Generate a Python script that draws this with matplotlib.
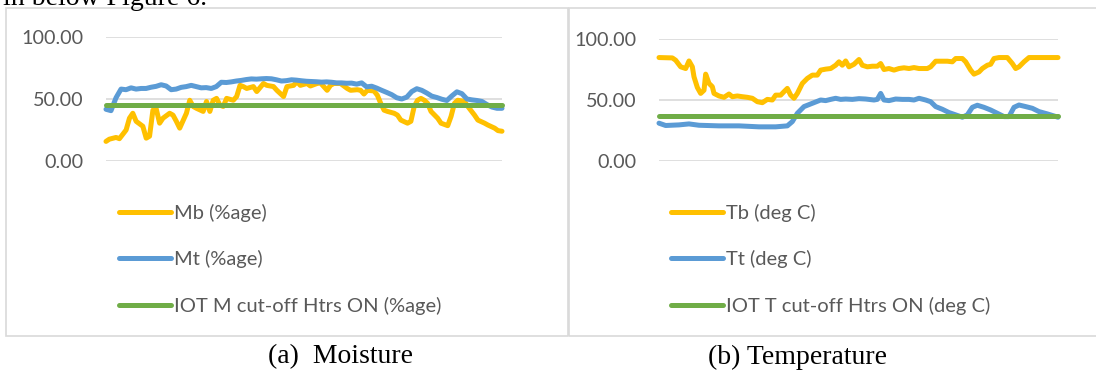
import numpy as np
import matplotlib.pyplot as plt
from matplotlib.patches import Rectangle

# ---- data ----
# moisture panel (sample index, value)
mb_t = [0, 1, 3, 4, 6, 7, 8, 9, 11, 12, 13, 14, 15, 16, 17, 19, 20, 21, 22, 24,
        25, 26, 27, 29, 30, 31, 32, 33, 34, 35, 36, 38, 39, 40, 41, 42, 44, 45, 47, 48,
        50, 51, 52, 53, 54, 56, 57, 58, 60, 61, 63, 64, 66, 67, 68, 70, 72, 73, 75, 76,
        77, 78, 80, 81, 82, 83, 84, 86, 87, 88, 90, 91, 92, 93, 94, 95, 96, 97, 99, 100,
        102, 103, 104, 105, 107, 108, 110, 111, 113, 114, 116, 117, 118.2]
mb_val = [15.8, 17.6, 19, 18, 25, 34.5, 38.5, 32, 28, 18.4, 20, 41, 42, 30.5, 34.5, 38.5, 37, 32, 26.5, 38.5,
          49, 44, 42.5, 40, 48, 40, 49, 50.5, 45, 44, 50.5, 49, 52, 61, 60, 58.5, 60, 56, 62.5, 61,
          60, 57, 54.5, 52, 60, 61, 64, 61, 62.5, 60.5, 62.5, 63, 57, 61, 62.5, 62.5, 58.5, 57, 57.5, 57,
          54, 57, 56.5, 53, 46.5, 41, 40, 38.5, 37, 33, 30.5, 32, 44, 49, 50.5, 49, 46.5, 40, 34.5, 30.5,
          28.5, 36, 46.5, 49, 48, 44, 37, 33, 30.5, 29, 26.5, 24.5, 24]
mt_val = [41.7, 40.6, 51, 58, 57.5, 59, 58, 58.5, 58.5, 59.5,
          60.2, 61.5, 60.5, 57.5, 58, 59.4, 60, 61, 60, 59,
          59.2, 58.5, 60, 63.5, 63.3, 63.8, 64.5, 65, 65.7, 66.2,
          66, 66.3, 66.5, 66.3, 65.5, 64.5, 64.8, 65.5, 65.2, 64.7,
          64.3, 64.1, 63.9, 63.6, 63.8, 63.5, 63, 63, 62.7, 62.8,
          62, 63, 59.8, 60.3, 58.8, 57, 55.3, 53.5, 51, 50,
          51.5, 56, 58.3, 57, 54.8, 52.3, 51.2, 49.8, 48.8, 52.5,
          55.8, 54.3, 50, 49.3, 48.8, 48, 45.5, 43.5, 42.5, 42.5]
m_cutoff = 45.0

# temperature panel (sample index, value)
tb_t = [0, 4, 5, 6.5, 8, 9, 10, 10.5, 11.5, 12.5, 13.5, 14, 15, 16, 16.5, 18, 19.5, 21, 22, 23.5,
        25, 26.5, 28, 29.5, 31, 32.5, 34, 35, 36.5, 37.5, 38.5, 39.5, 40.5, 41.5, 43, 44.5, 46, 47.5, 48.5, 50,
        51.5, 53, 54, 55, 56, 57, 58.5, 60, 61, 62.5, 64, 65.5, 66.5, 67.5, 69, 70.5, 72, 73.5, 75, 76.5,
        78, 79.5, 80.5, 81.5, 83, 84.5, 86.5, 88, 89, 91, 92, 93.5, 94.5, 96, 97, 98.5, 99.5, 100.5, 102, 104.5,
        106, 107, 108, 109.5, 111, 119.7]
tb_val = [84.8, 84.5, 82.6, 77.2, 75.8, 82, 77.2, 69, 60.3, 55.4, 58, 71.2, 63.6, 60.9, 55.4, 53.3, 52.2, 54.9, 52.7, 53.3,
          52.7, 52.2, 51.4, 48.6, 47.8, 50.5, 50, 54, 54, 56.8, 59.5, 54, 51.4, 55.4, 63.6, 67.7, 70.4, 70.4, 74.5, 75.3,
          75.8, 78.5, 81.3, 78.5, 82, 77.2, 79.3, 83.2, 78.5, 77.2, 77.7, 77.7, 79.9, 75, 75.8, 74.5, 75.8, 76.4, 75.8, 76.6,
          75.8, 75.8, 75.8, 77.2, 81.8, 81.8, 81.8, 81.3, 84, 84, 81.3, 74.5, 71.2, 73, 75.8, 78.5, 79.3, 84, 84.8, 84.8,
          79.9, 75.8, 77.2, 81.3, 84.8, 84.8]
tt_t = [0, 2, 6, 9, 12, 18, 24, 30, 35, 38.5, 40, 41.5, 43.5, 46, 48.5, 50, 51.5, 53, 54.5, 56,
        58, 60, 62, 64.5, 65.5, 66.5, 67.5, 69, 71, 73, 75, 76.5, 78, 80, 81.5, 83, 85, 87, 89, 91,
        92.5, 94, 95.5, 97.5, 99.5, 101.5, 103.5, 105, 106.5, 108, 110, 112, 114, 116.5, 119.7]
tt_val = [31, 29.1, 29.6, 30.4, 29.3, 28.8, 28.8, 28, 28, 28.8, 32.3, 39.1, 44.6, 47.3, 50, 49.5, 50.5, 51.4, 50.5, 50.8,
          50.5, 51.1, 50.8, 50, 50.5, 55.4, 50, 49.5, 50.8, 50.5, 50.5, 50, 51.4, 50, 48.6, 44.6, 42.4, 39.7, 37.8, 35.9,
          37.8, 44, 45.7, 44, 41.8, 39.1, 36.4, 36.4, 44, 45.9, 44.6, 43.2, 40.5, 38.6, 35.9]
t_cutoff = 37.0

y_ticks = [0, 50, 100]
m_labels = ["Mb (%age)", "Mt (%age)", "IOT M cut-off Htrs ON (%age)"]
t_labels = ["Tb (deg C)", "Tt (deg C)", "IOT T cut-off Htrs ON (deg C)"]

YELLOW = "#FFC000"
BLUE = "#5B9BD5"
GREEN = "#70AD47"
GRID = "#D9D9D9"
TEXT = "#595959"

W, H = 1096, 374


def fx(px):
    return px / W


def fy(px):
    return 1 - px / H


def draw_panel(ax, top_t, top_val, bot_t, bot_val, cutoff, labels):
    t_end = max(max(top_t), max(bot_t))
    style = dict(lw=3.6, solid_capstyle="round", solid_joinstyle="round", clip_on=False)
    ax.plot(top_t, top_val, color=YELLOW, label=labels[0], **style)
    ax.plot(bot_t, bot_val, color=BLUE, label=labels[1], **style)
    ax.plot([0, t_end], [cutoff, cutoff], color=GREEN, label=labels[2], **style)

    ax.set_xlim(0, t_end)
    ax.set_ylim(0, 100)
    ax.set_yticks(y_ticks)
    ax.set_yticklabels([f"{v:.2f}" for v in y_ticks])
    ax.set_xticks([])
    ax.tick_params(axis="y", length=0, pad=16, labelsize=14.2, labelcolor=TEXT)
    for lab in ax.get_yticklabels():
        lab.set_family("Lato")
    ax.yaxis.grid(True, color=GRID, lw=1.2)
    ax.set_axisbelow(True)
    for s in ax.spines.values():
        s.set_visible(False)


fig = plt.figure(figsize=(W / 100, H / 100), dpi=100)

# panel frames
fig.add_artist(Rectangle((fx(6), fy(336)), fx(562), 328 / H, transform=fig.transFigure,
                         fill=False, edgecolor=GRID, lw=1.2))
fig.add_artist(Rectangle((fx(569), fy(336)), fx(540), 328 / H, transform=fig.transFigure,
                         fill=False, edgecolor=GRID, lw=1.2))

ax1 = fig.add_axes([fx(106), fy(161), fx(396), 124 / H])
draw_panel(ax1, mb_t, mb_val, np.linspace(0, max(mb_t), len(mt_val)), mt_val, m_cutoff, m_labels)

ax2 = fig.add_axes([fx(659), fy(161), fx(399), 122 / H])
draw_panel(ax2, tb_t, tb_val, tt_t, tt_val, t_cutoff, t_labels)

leg_kw = dict(loc="upper left", bbox_transform=fig.transFigure, frameon=False,
              handlelength=2.6, handletextpad=0.15, labelspacing=1.4,
              borderpad=0, borderaxespad=0, labelcolor=TEXT,
              prop=dict(family="Lato", size=14.5))
ax1.legend(bbox_to_anchor=(fx(119), fy(204)), **leg_kw)
ax2.legend(bbox_to_anchor=(fx(671), fy(204)), **leg_kw)

# captions and the clipped line of body text above
serif = "Liberation Serif"
fig.text(fx(3), fy(5), "in below Figure 6.", va="baseline", family=serif, size=20)
fig.text(fx(340), fy(357), "(a)  Moisture", ha="center", va="center", family=serif, size=20)
fig.text(fx(797), fy(357), "(b) Temperature", ha="center", va="center", family=serif, size=20)

fig.savefig("out.png", dpi=100)
